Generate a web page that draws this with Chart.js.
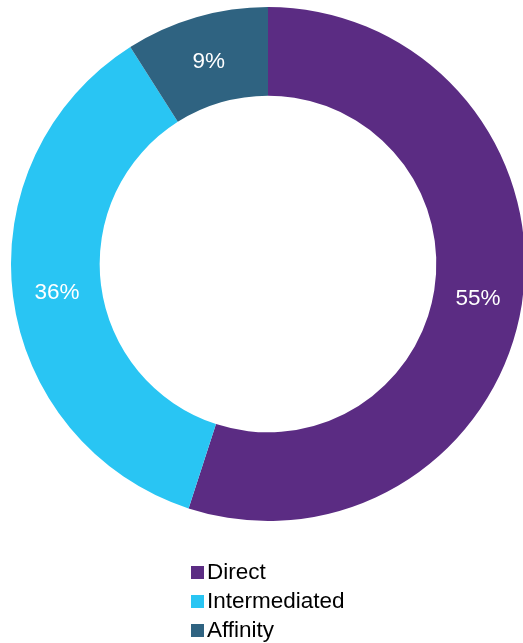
<!DOCTYPE html>
<html>
<head>
<meta charset="utf-8">
<script src="https://cdn.jsdelivr.net/npm/chart.js@4"></script>
<style>
  html, body { margin: 0; padding: 0; background: #ffffff; overflow: hidden; }
  #wrap { position: relative; width: 526px; height: 643px; }
</style>
</head>
<body>
<div id="wrap"><canvas id="channel-chart"></canvas></div>
<script>
// Data
var channelNames = ['Direct', 'Intermediated', 'Affinity'];
var channelShares = [55, 36, 9];
var channelColors = ['#5b2c83', '#29c5f3', '#2f6381'];

// Slice labels, drawn in the middle of each arc
var sliceLabels = {
  id: 'sliceLabels',
  afterDatasetsDraw: function(chart) {
    var ctx = chart.ctx;
    var meta = chart.getDatasetMeta(0);
    ctx.save();
    ctx.fillStyle = '#ffffff';
    ctx.font = '22.5px "Liberation Sans", Arial, sans-serif';
    ctx.textAlign = 'center';
    ctx.textBaseline = 'middle';
    for (var i = 0; i < meta.data.length; i++) {
      var pos = meta.data[i].tooltipPosition();
      ctx.fillText(channelShares[i] + '%', pos.x, pos.y + 2);
    }
    ctx.restore();
  }
};

// Vertical legend under the ring
var stackLegend = {
  id: 'stackLegend',
  afterDraw: function(chart) {
    var ctx = chart.ctx;
    ctx.save();
    ctx.font = '22.5px "Liberation Sans", Arial, sans-serif';
    ctx.textBaseline = 'middle';
    ctx.textAlign = 'left';
    for (var i = 0; i < channelNames.length; i++) {
      var y = 572 + i * 29;
      ctx.fillStyle = channelColors[i];
      ctx.fillRect(191, y - 6, 13, 13);
      ctx.fillStyle = '#000000';
      ctx.fillText(channelNames[i], 207, y + 1);
    }
    ctx.restore();
  }
};

var ctx = document.getElementById('channel-chart').getContext('2d');
var channelChart = new Chart(ctx, {
  type: 'doughnut',
  data: {
    labels: channelNames,
    datasets: [{
      data: channelShares,
      backgroundColor: channelColors,
      borderWidth: 0
    }]
  },
  options: {
    responsive: true,
    maintainAspectRatio: false,
    animation: false,
    cutout: '65.5%',
    layout: { padding: { left: 11, top: 7, right: 1, bottom: 122 } },
    plugins: {
      legend: { display: false },
      tooltip: { enabled: false }
    }
  },
  plugins: [sliceLabels, stackLegend]
});
</script>
</body>
</html>
